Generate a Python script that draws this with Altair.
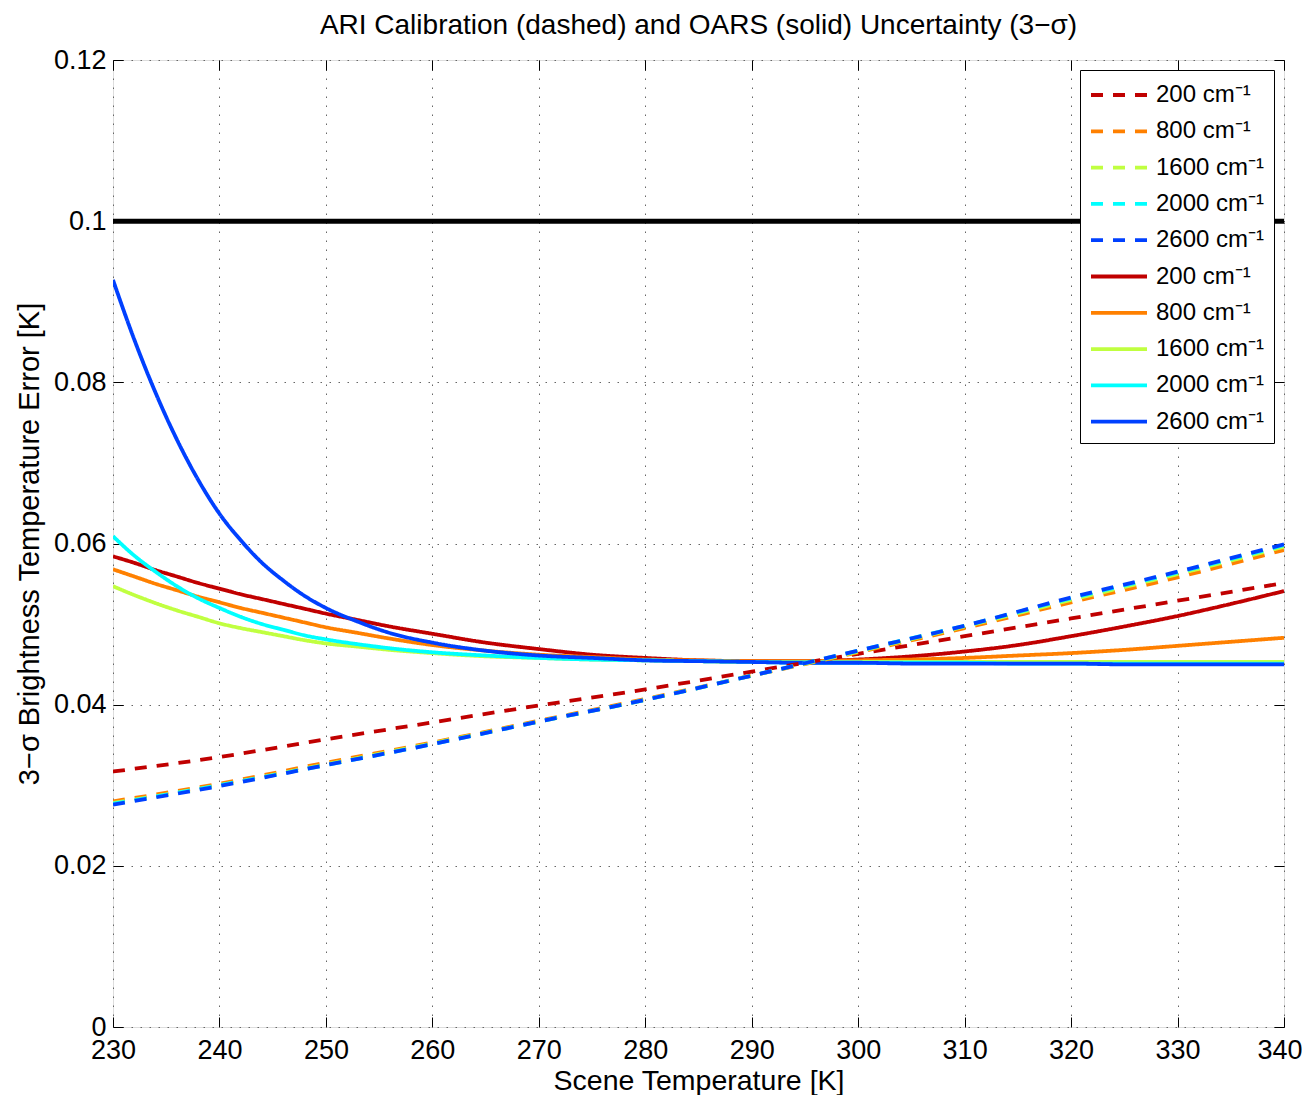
import altair as alt
import pandas as pd

# ---------------- data ----------------
T_SOLID = [230, 232, 234, 236, 238, 240, 242, 244, 246, 248, 250, 253, 256, 260, 265,
           270, 275, 280, 285, 290, 295, 300, 305, 310, 315, 320, 325, 330, 335, 340]
OARS_200 = [0.0584, 0.0576, 0.0567, 0.0559, 0.0551, 0.0544, 0.0537, 0.0531, 0.0525,
            0.0519, 0.0513, 0.0505, 0.0497, 0.0488, 0.0477, 0.0469, 0.0462, 0.0458,
            0.0455, 0.0454, 0.0454, 0.0456, 0.0460, 0.0466, 0.0474, 0.0485, 0.0497,
            0.0510, 0.0525, 0.0541]
OARS_800 = [0.0568, 0.0559, 0.0550, 0.0542, 0.0534, 0.0527, 0.0520, 0.0514, 0.0508,
            0.0502, 0.0496, 0.0489, 0.0482, 0.0474, 0.0467, 0.0462, 0.0459, 0.0456,
            0.0455, 0.0454, 0.0454, 0.0455, 0.0456, 0.0458, 0.0461, 0.0464, 0.0468,
            0.0473, 0.0478, 0.0483]
OARS_1600 = [0.0547, 0.0536, 0.0526, 0.0517, 0.0509, 0.0501, 0.0495, 0.0490, 0.0485,
             0.0480, 0.0476, 0.0472, 0.0468, 0.0464, 0.0460, 0.0458, 0.0456, 0.0455,
             0.0454, 0.0453, 0.0453, 0.0453, 0.0453, 0.0453, 0.0453, 0.0453, 0.0453,
             0.0453, 0.0453, 0.0453]
OARS_2000 = [0.0609, 0.0585, 0.0565, 0.0547, 0.0532, 0.0520, 0.0509, 0.0500, 0.0493,
             0.0486, 0.0481, 0.0475, 0.0470, 0.0465, 0.0461, 0.0458, 0.0456, 0.0455,
             0.0454, 0.0453, 0.0452, 0.0452, 0.0452, 0.0452, 0.0451, 0.0451, 0.0451,
             0.0451, 0.0451, 0.0451]
OARS_2600 = [0.0927, 0.0853, 0.0787, 0.0729, 0.0679, 0.0637, 0.0604, 0.0576, 0.0554,
             0.0535, 0.0520, 0.0503, 0.0489, 0.0477, 0.0467, 0.0461, 0.0458, 0.0455,
             0.0454, 0.0453, 0.0452, 0.0452, 0.0451, 0.0451, 0.0451, 0.0451, 0.0450,
             0.0450, 0.0450, 0.0450]

T_DASH = [230, 240, 250, 260, 270, 280, 290, 300, 310, 320, 330, 340]
ARI_200 = [0.0317, 0.0335, 0.0357, 0.0378, 0.0399, 0.0419, 0.0441, 0.0463, 0.0485,
           0.0507, 0.0529, 0.0551]
ARI_800 = [0.0280, 0.0302, 0.0328, 0.0353, 0.0380, 0.0407, 0.0436, 0.0465, 0.0495,
           0.0527, 0.0558, 0.0592]
ARI_1600 = [0.0278, 0.0300, 0.0326, 0.0352, 0.0379, 0.0406, 0.0436, 0.0466, 0.0497,
            0.0530, 0.0562, 0.0596]
ARI_2000 = [0.0277, 0.0300, 0.0325, 0.0351, 0.0379, 0.0406, 0.0436, 0.0467, 0.0498,
            0.0532, 0.0564, 0.0598]
ARI_2600 = [0.0276, 0.0299, 0.0325, 0.0351, 0.0379, 0.0406, 0.0436, 0.0467, 0.0498,
            0.0533, 0.0565, 0.0599]

WAVENUMBERS = ["200", "800", "1600", "2000", "2600"]
COLORS = ["#C00000", "#FF8000", "#C0FF40", "#00FFFF", "#0040FF"]
THRESHOLD = [0.1]

X_TICKS = [230, 240, 250, 260, 270, 280, 290, 300, 310, 320, 330, 340]
Y_TICKS = [0, 0.02, 0.04, 0.06, 0.08, 0.1, 0.12]

TITLE = "ARI Calibration (dashed) and OARS (solid) Uncertainty (3\u2212\u03c3)"
X_TITLE = "Scene Temperature [K]"
Y_TITLE = "3\u2212\u03c3 Brightness Temperature Error [K]"

# ---------------- build tables ----------------
rows = []
for wn, vals in zip(WAVENUMBERS, [ARI_200, ARI_800, ARI_1600, ARI_2000, ARI_2600]):
    for t, v in zip(T_DASH, vals):
        rows.append({"T": t, "err": v, "series": "ARI " + wn})
for wn, vals in zip(WAVENUMBERS, [OARS_200, OARS_800, OARS_1600, OARS_2000, OARS_2600]):
    for t, v in zip(T_SOLID, vals):
        rows.append({"T": t, "err": v, "series": "OARS " + wn})
df = pd.DataFrame(rows)
thr = pd.DataFrame({"v": THRESHOLD})

DOMAIN = ["ARI " + w for w in WAVENUMBERS] + ["OARS " + w for w in WAVENUMBERS]
COLOR_RANGE = COLORS + COLORS
DASH_RANGE = [[12, 10]] * 5 + [[1, 0]] * 5

W, H = 1171, 967
FONT = "Liberation Sans"
X_LAST = X_TICKS[-1]

legend = alt.Legend(
    title=None, orient="top-right", offset=10, fillColor="white", strokeColor="black",
    padding=9, symbolType="M-1,0L3,0", symbolSize=784, symbolStrokeWidth=3.8,
    labelFont=FONT, labelFontSize=24, labelColor="black", labelOffset=35, rowPadding=8.3,
    labelExpr="split(datum.label, ' ')[1] + ' cm\u207b\u00b9'",
)

color_enc = alt.Color("series:N", scale=alt.Scale(domain=DOMAIN, range=COLOR_RANGE), legend=legend)
dash_enc = alt.StrokeDash("series:N", scale=alt.Scale(domain=DOMAIN, range=DASH_RANGE), legend=legend)

xscale = alt.Scale(domain=[230, 340], nice=False, zero=False)
yscale = alt.Scale(domain=[0, 0.12], nice=False, zero=False)

def tick_axis(orient, offset, values):
    return alt.Axis(orient=orient, offset=offset, values=values, labels=False, domain=False,
                    grid=False, ticks=True, tickSize=10, tickColor="black", tickWidth=1, title=None)

x_main = alt.Axis(orient="bottom", values=X_TICKS, labels=True, ticks=False, tickSize=0, domain=False,
                  grid=True, gridDash=[1.5, 7.5], gridColor="#666", gridWidth=1,
                  labelFlush=False, labelOverlap=False,
                  labelAlign={"condition": {"test": f"datum.value == {X_LAST}", "value": "right"},
                              "value": "center"},
                  labelOffset={"condition": {"test": f"datum.value == {X_LAST}", "value": 18},
                               "value": 0},
                  labelFont=FONT, labelFontSize=27, labelColor="black", labelPadding=10,
                  title=X_TITLE, titleFont=FONT, titleFontSize=28.5, titleFontWeight="normal",
                  titleColor="black", titlePadding=3)
y_main = alt.Axis(orient="left", values=Y_TICKS, labels=True, ticks=False, tickSize=0, domain=False,
                  grid=True, gridDash=[1.5, 7.5], gridColor="#666", gridWidth=1,
                  labelFlush=False, labelOverlap=False,
                  labelFont=FONT, labelFontSize=27, labelColor="black", labelPadding=7,
                  labelExpr="format(datum.value, '.2~f')",
                  title=Y_TITLE, titleFont=FONT, titleFontSize=29, titleFontWeight="normal",
                  titleColor="black", titlePadding=9)

axes_for = {
    "OARS 200": (x_main, y_main),
    "OARS 800": (tick_axis("top", -H, X_TICKS), tick_axis("right", -W, Y_TICKS)),
    "OARS 1600": (tick_axis("bottom", -H, X_TICKS), tick_axis("left", -W, Y_TICKS)),
}

draw_order = ["OARS " + w for w in WAVENUMBERS] + ["ARI " + w for w in WAVENUMBERS]

layers = []
rule = alt.Chart(thr).mark_rule(color="black", strokeWidth=5).encode(
    y=alt.Y("v:Q", scale=yscale, axis=None)
)
layers.append(rule)
for s in draw_order:
    xa, ya = axes_for.get(s, (None, None))
    layer = alt.Chart(df[df["series"] == s]).mark_line(
        strokeWidth=3.8, interpolate="monotone", clip=True
    ).encode(
        x=alt.X("T:Q", scale=xscale, axis=xa),
        y=alt.Y("err:Q", scale=yscale, axis=ya),
        color=color_enc,
        strokeDash=dash_enc,
    )
    layers.append(layer)

chart = alt.layer(*layers).resolve_axis(x="independent", y="independent").properties(
    width=W, height=H,
    title=alt.TitleParams(TITLE, font=FONT, fontSize=28, fontWeight="normal", color="black",
                          anchor="middle", offset=6),
    padding={"left": 105, "top": 52, "right": 18, "bottom": 68},
    autosize=alt.AutoSizeParams(type="none"),
).configure_view(stroke="black", strokeWidth=1.2).configure(background="white")

chart.save("out.html", embed_options={"renderer": "svg", "actions": False})
